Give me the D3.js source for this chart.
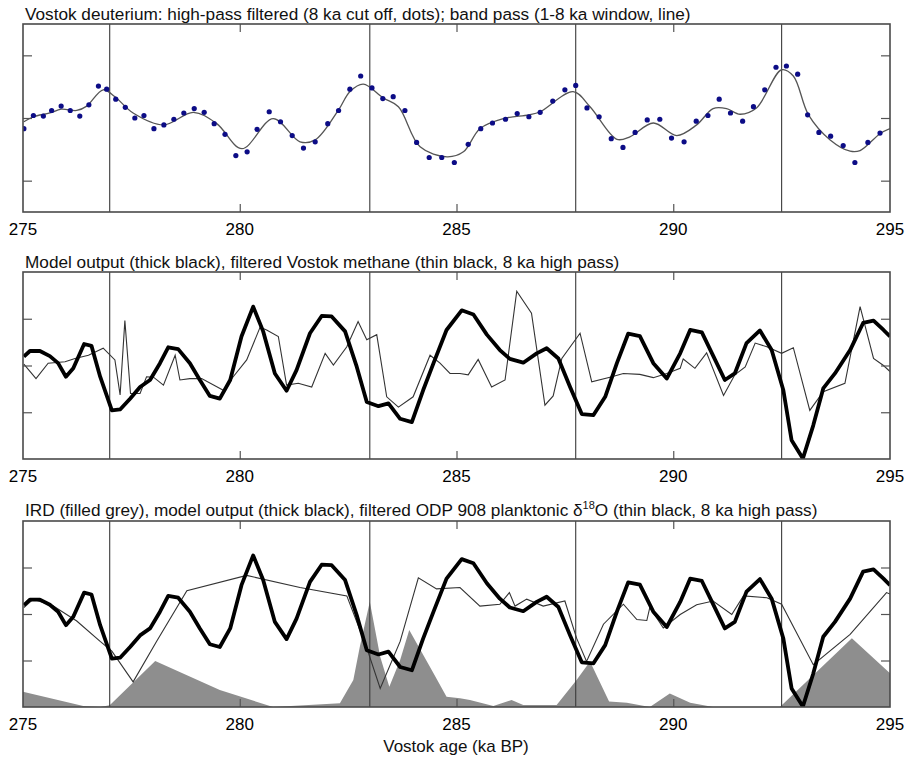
<!DOCTYPE html>
<html>
<head>
<meta charset="utf-8">
<script src="https://cdn.jsdelivr.net/npm/d3@7"></script>
<style>
  html, body { margin: 0; padding: 0; background: #fff; }
  text { font-family: "Liberation Sans", Arial, Helvetica, sans-serif; fill: #111; }
</style>
</head>
<body>
<svg id="chart" width="906" height="759"></svg>
<script>
// ---------------- DATA ----------------
const xTicks = [275, 280, 285, 290, 295];
const markerAges = [277.0, 283.0, 287.75, 292.5];

// Panel 1: Vostok deuterium high-pass (dots): [age ka, value]
const deutAge = [275.02,275.24,275.47,275.66,275.88,276.09,276.31,276.52,276.74,276.93,277.14,277.36,277.58,277.79,278.02,278.25,278.48,278.71,278.95,279.18,279.41,279.66,279.91,280.17,280.40,280.68,280.94,281.21,281.47,281.74,282.03,282.28,282.54,282.79,283.05,283.30,283.54,283.81,284.08,284.37,284.66,284.95,285.27,285.56,285.83,286.13,286.40,286.67,286.93,287.22,287.50,287.75,288.01,288.29,288.57,288.84,289.12,289.40,289.69,289.96,290.25,290.53,290.80,291.06,291.32,291.60,291.85,292.11,292.37,292.61,292.87,293.10,293.36,293.63,293.92,294.19,294.49,294.77];
const deutVal = [-0.17,0.04,0.03,0.12,0.19,0.12,0.03,0.21,0.51,0.46,0.30,0.17,0.00,0.04,-0.17,-0.11,-0.02,0.08,0.15,0.09,-0.09,-0.26,-0.60,-0.54,-0.18,0.10,-0.06,-0.28,-0.48,-0.38,-0.09,0.12,0.46,0.67,0.48,0.31,0.34,0.12,-0.39,-0.63,-0.63,-0.71,-0.42,-0.17,-0.08,-0.02,0.07,0.02,0.09,0.27,0.45,0.52,0.16,0.02,-0.33,-0.47,-0.23,-0.03,-0.02,-0.32,-0.38,-0.05,0.04,0.30,0.08,-0.05,0.18,0.45,0.81,0.83,0.70,0.05,-0.23,-0.29,-0.44,-0.71,-0.39,-0.24];

// Panel 1: band pass (line)
const bandAge = [275.02,275.24,275.62,275.88,276.24,276.47,276.85,277.12,277.54,278.24,278.93,279.47,280.05,280.77,281.39,281.74,282.28,282.54,282.85,283.31,283.66,284.16,284.78,285.16,285.54,286.08,286.67,286.93,287.69,288.08,288.70,289.00,289.54,290.08,290.54,290.92,291.23,291.54,291.92,292.50,292.77,293.12,293.62,294.08,294.31,294.77,295.00];
const bandVal = [-0.06,0.02,0.08,0.14,0.12,0.19,0.45,0.34,0.08,-0.11,0.09,-0.09,-0.49,-0.01,-0.38,-0.35,0.13,0.42,0.54,0.32,0.18,-0.46,-0.62,-0.54,-0.17,-0.01,0.05,0.10,0.42,0.18,-0.34,-0.30,-0.08,-0.28,-0.11,0.15,0.15,0.06,0.16,0.77,0.67,0.05,-0.35,-0.53,-0.52,-0.25,-0.17];

// Model output (thick black), used in panels 2 and 3
const modelAge = [275.02,275.16,275.39,275.62,275.81,275.99,276.16,276.41,276.58,276.78,277.05,277.24,277.47,277.70,277.93,278.16,278.35,278.58,278.85,279.08,279.31,279.54,279.78,280.04,280.31,280.54,280.81,281.08,281.31,281.62,281.89,282.12,282.43,282.70,282.93,283.20,283.43,283.70,283.97,284.23,284.47,284.77,285.12,285.39,285.70,286.00,286.23,286.54,286.85,287.08,287.35,287.62,287.89,288.16,288.43,288.70,288.96,289.23,289.54,289.85,290.16,290.39,290.66,290.93,291.19,291.42,291.69,292.00,292.27,292.54,292.73,292.99,293.23,293.46,293.73,294.08,294.38,294.62,294.85,295.00];
const modelVal = [0.19,0.31,0.31,0.20,0.05,-0.24,-0.06,0.46,0.42,-0.24,-0.96,-0.94,-0.71,-0.46,-0.31,0.05,0.39,0.35,0.05,-0.31,-0.65,-0.71,-0.31,0.62,1.26,0.73,-0.17,-0.54,-0.10,0.69,1.06,1.05,0.73,-0.03,-0.78,-0.87,-0.81,-1.14,-1.21,-0.53,0.05,0.76,1.18,1.09,0.66,0.33,0.14,0.06,0.26,0.37,0.15,-0.46,-1.04,-1.06,-0.67,0.05,0.68,0.63,0.05,-0.28,0.26,0.76,0.71,0.19,-0.31,-0.17,0.48,0.75,0.33,-0.53,-1.60,-1.99,-1.28,-0.49,-0.17,0.33,0.91,0.96,0.76,0.62];

// Panel 2: filtered Vostok methane (thin black)
const ch4Age = [275.02,275.30,275.58,275.97,276.20,276.51,276.85,277.12,277.24,277.35,277.48,277.70,277.85,278.01,278.24,278.51,278.62,278.85,279.12,279.62,279.85,280.16,280.47,280.62,280.89,281.08,281.35,281.66,281.97,282.16,282.47,282.73,282.93,283.16,283.39,283.66,284.00,284.39,284.62,284.85,285.08,285.27,285.50,285.81,286.12,286.39,286.73,287.04,287.23,287.43,287.85,288.12,288.54,288.85,289.23,289.54,289.85,290.16,290.23,290.50,290.77,291.16,291.42,291.66,291.89,292.16,292.50,292.77,293.15,293.46,293.96,294.31,294.62,294.85,295.00];
const ch4Val = [0.03,-0.28,0.05,0.08,0.15,0.22,0.37,0.12,-0.63,0.96,-0.60,-0.60,-0.24,-0.25,-0.42,0.22,-0.31,-0.28,-0.28,-0.53,-0.24,0.12,0.82,0.76,0.62,-0.42,-0.38,-0.46,0.26,0.01,0.40,0.94,0.55,0.66,-0.67,-0.89,-0.67,0.22,0.05,-0.17,-0.17,-0.20,0.13,-0.46,-0.31,1.59,1.12,-0.85,-0.65,0.15,0.69,-0.35,-0.25,-0.17,-0.19,-0.26,-0.17,-0.06,0.14,-0.06,0.27,-0.64,-0.20,-0.03,0.48,0.40,0.26,0.38,-0.96,-0.56,-0.38,1.26,0.15,0.00,-0.13];

// Panel 3: filtered ODP 908 planktonic d18O (thin black)
const odpAge = [275.02,275.24,275.70,276.24,276.78,277.05,277.54,278.08,278.78,280.16,281.39,282.47,282.93,283.24,283.70,284.12,284.54,285.08,285.54,286.00,286.22,286.35,286.62,287.00,287.50,287.77,288.00,288.39,288.85,289.16,289.39,289.46,289.77,290.16,290.54,290.92,291.35,291.62,292.16,292.50,293.23,294.08,294.92,295.00];
const odpVal = [0.14,0.32,0.17,-0.15,-0.59,-0.80,-1.46,-0.59,0.50,0.83,0.57,0.39,-0.73,-1.60,-0.59,0.78,0.54,0.57,0.17,0.21,0.46,0.17,0.32,0.17,0.28,-0.52,-1.02,-0.22,0.21,-0.12,-0.14,0.14,-0.30,-0.01,0.20,0.28,-0.01,0.39,0.35,0.21,-1.09,-0.44,0.46,0.43];

// Panel 3: IRD (filled grey), relative units (0-100 of panel height)
const irdAge = [275.00,276.39,276.78,277.00,278.05,279.54,280.77,282.31,282.62,282.77,283.00,283.24,283.45,283.70,283.91,284.47,284.77,285.08,285.31,285.85,286.27,286.54,287.31,287.77,288.08,288.52,288.93,289.46,289.92,290.39,290.92,292.46,294.12,295.00];
const irdVal = [8.2,0.5,0,1,24.7,9.1,0,2,14.5,32.4,56.6,27,10.9,25.3,41.4,18.1,5.5,4.7,3.8,0.5,3.8,1.1,1.1,14.5,24.4,2.9,2.3,0,7.3,2.3,0,0,36.9,18.1];

const yTicks = [-1, 0, 1];

// ---------------- LAYOUT ----------------
const svg = d3.select("#chart");
const left = 23, right = 890;
const x = d3.scaleLinear().domain([275, 295]).range([left, right]);

const panels = [
  { top: 24, bottom: 212, ydom: [-1.5, 1.5], title: "Vostok deuterium: high-pass filtered (8 ka cut off, dots); band pass (1-8 ka window, line)", titleY: 20 },
  { top: 272, bottom: 459, ydom: [-2, 2], title: "Model output (thick black), filtered Vostok methane (thin black, 8 ka high pass)", titleY: 268 },
  { top: 521, bottom: 707, ydom: [-2, 2], title: null, titleY: 516 }
];

const zip = (a, b) => a.map((d, i) => [d, b[i]]);

panels.forEach((p, i) => {
  const y = d3.scaleLinear().domain(p.ydom).range([p.bottom, p.top]);
  p.y = y;
  const g = svg.append("g");
  const clipId = "clip" + i;
  svg.append("clipPath").attr("id", clipId).append("rect")
    .attr("x", left).attr("y", p.top).attr("width", right - left).attr("height", p.bottom - p.top);
  const plot = g.append("g").attr("clip-path", `url(#${clipId})`);
  p.plot = plot;

  if (i === 2) {
    const irdY = d3.scaleLinear().domain([0, 100]).range([p.bottom, p.top]);
    const area = d3.area().x(d => x(d[0])).y0(p.bottom).y1(d => irdY(d[1]));
    plot.append("path").datum(zip(irdAge, irdVal)).attr("d", area).attr("fill", "#8e8e8e");
  }

  // vertical marker lines
  plot.selectAll("line.marker").data(markerAges).enter().append("line")
    .attr("x1", d => x(d)).attr("x2", d => x(d))
    .attr("y1", p.top).attr("y2", p.bottom)
    .attr("stroke", "#3a3a3a").attr("stroke-width", 1.1);

  // ticks (inside, top and bottom) via axes
  const axB = d3.axisTop(x).tickValues([280, 285, 290]).tickSize(8).tickFormat("");
  const axT = d3.axisBottom(x).tickValues([280, 285, 290]).tickSize(8).tickFormat("");
  const axL = d3.axisRight(y).tickValues(yTicks).tickSize(9).tickFormat("");
  const axR = d3.axisLeft(y).tickValues(yTicks).tickSize(9).tickFormat("");
  [[axB, `translate(0,${p.bottom})`], [axT, `translate(0,${p.top})`], [axL, `translate(${left},0)`], [axR, `translate(${right},0)`]]
    .forEach(([ax, tr]) => {
      const a = g.append("g").attr("transform", tr).call(ax);
      a.select(".domain").remove();
      a.selectAll("line").attr("stroke", "#555").attr("stroke-width", 1.2);
    });

  // tick labels
  g.selectAll("text.xt").data(xTicks).enter().append("text")
    .attr("x", d => x(d)).attr("y", p.bottom + 23)
    .attr("text-anchor", "middle").attr("font-size", 17).style("fill", "#000").text(d => d);

  // frame
  g.append("rect").attr("x", left).attr("y", p.top).attr("width", right - left).attr("height", p.bottom - p.top)
    .attr("fill", "none").attr("stroke", "#4a4a4a").attr("stroke-width", 1.6);

  // title
  if (p.title) {
    g.append("text").attr("x", 25).attr("y", p.titleY).attr("font-size", 17.2).text(p.title);
  }
});

// Panel 3 title with superscript
{
  const t = svg.append("text").attr("x", 25).attr("y", panels[2].titleY).attr("font-size", 17.2);
  t.append("tspan").text("IRD (filled grey), model output (thick black), filtered ODP 908 planktonic \u03b4");
  t.append("tspan").attr("font-size", 11).attr("dy", -7).text("18");
  t.append("tspan").attr("dy", 7).text("O (thin black, 8 ka high pass)");
}

// Panel 1 content
{
  const p = panels[0];
  const line = d3.line().x(d => x(d[0])).y(d => p.y(d[1])).curve(d3.curveCatmullRom.alpha(0.5));
  p.plot.append("path").datum(zip(bandAge, bandVal)).attr("d", line)
    .attr("fill", "none").attr("stroke", "#555").attr("stroke-width", 1.3);
  p.plot.selectAll("circle").data(zip(deutAge, deutVal)).enter().append("circle")
    .attr("cx", d => x(d[0])).attr("cy", d => p.y(d[1])).attr("r", 2.6).attr("fill", "#0c0c86");
}

// Panel 2 content
{
  const p = panels[1];
  const line = d3.line().x(d => x(d[0])).y(d => p.y(d[1]));
  p.plot.append("path").datum(zip(ch4Age, ch4Val)).attr("d", line)
    .attr("fill", "none").attr("stroke", "#333").attr("stroke-width", 1.1);
  p.plot.append("path").datum(zip(modelAge, modelVal)).attr("d", line)
    .attr("fill", "none").attr("stroke", "#000").attr("stroke-width", 3.8).attr("stroke-linejoin", "round");
}

// Panel 3 content
{
  const p = panels[2];
  const line = d3.line().x(d => x(d[0])).y(d => p.y(d[1]));
  p.plot.append("path").datum(zip(odpAge, odpVal)).attr("d", line)
    .attr("fill", "none").attr("stroke", "#333").attr("stroke-width", 1.1);
  p.plot.append("path").datum(zip(modelAge, modelVal)).attr("d", line)
    .attr("fill", "none").attr("stroke", "#000").attr("stroke-width", 3.8).attr("stroke-linejoin", "round");
}

// x-axis label
svg.append("text").attr("x", 456).attr("y", 752).attr("text-anchor", "middle").attr("font-size", 17)
  .text("Vostok age (ka BP)");
</script>
</body>
</html>
